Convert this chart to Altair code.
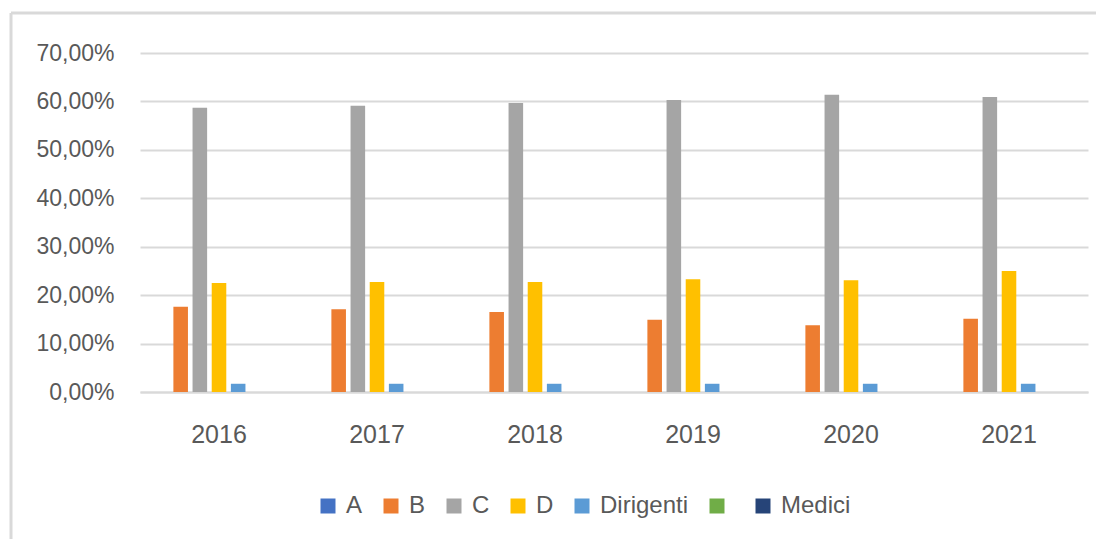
import altair as alt
import pandas as pd

years = ["2016", "2017", "2018", "2019", "2020", "2021"]
series = ["A", "B", "C", "D", "Dirigenti", " ", "Medici"]
colors = ["#4472C4", "#ED7D31", "#A5A5A5", "#FFC000", "#5B9BD5", "#70AD47", "#264478"]

val_A = [0, 0, 0, 0, 0, 0]
val_B = [17.6, 17.1, 16.5, 14.9, 13.8, 15.1]
val_C = [58.7, 59.1, 59.7, 60.3, 61.4, 60.9]
val_D = [22.5, 22.7, 22.7, 23.3, 23.1, 25.0]
val_Dir = [1.7, 1.7, 1.7, 1.7, 1.7, 1.7]
val_G = [0, 0, 0, 0, 0, 0]
val_Med = [0, 0, 0, 0, 0, 0]

y_ticks = [0, 0.1, 0.2, 0.3, 0.4, 0.5, 0.6, 0.7]

all_vals = [val_A, val_B, val_C, val_D, val_Dir, val_G, val_Med]
rows = []
for s, vals in zip(series, all_vals):
    for yr, v in zip(years, vals):
        rows.append({"year": yr, "series": s, "value": v / 100})
df = pd.DataFrame(rows)

FONT = "Liberation Sans"
TXT = "#595959"
GRID = "#D9D9D9"

bars = alt.Chart(df).mark_bar().encode(
    x=alt.X("year:N", sort=years,
            scale=alt.Scale(paddingInner=0.18, paddingOuter=0.09),
            axis=alt.Axis(title=None, labelAngle=0, ticks=False, domain=True,
                          domainColor=GRID, domainWidth=2,
                          labelFont=FONT, labelFontSize=25, labelColor=TXT,
                          labelPadding=30, grid=False)),
    xOffset=alt.XOffset("series:N", sort=series,
                        scale=alt.Scale(paddingInner=0.24)),
    y=alt.Y("value:Q",
            scale=alt.Scale(domain=[0, 0.7], nice=False),
            axis=alt.Axis(title=None, values=y_ticks, ticks=False, domain=False,
                          gridColor=GRID, gridWidth=2,
                          labelExpr="replace(format(datum.value, '.2%'), '.', ',')",
                          labelFont=FONT, labelFontSize=23, labelColor=TXT,
                          labelPadding=26)),
    color=alt.Color("series:N", sort=series,
                    scale=alt.Scale(domain=series, range=colors),
                    legend=alt.Legend(title=None, orient="none", direction="horizontal",
                                      columns=7, legendX=176, legendY=441,
                                      symbolType="square", symbolSize=225,
                                      symbolStrokeWidth=0,
                                      labelFont=FONT, labelFontSize=24, labelColor=TXT,
                                      labelOffset=6, columnPadding=16)),
)

border_top = alt.Chart(pd.DataFrame({"k": [0]})).mark_rule(color=GRID, strokeWidth=3).encode(
    x=alt.value(-129), x2=alt.value(968), y=alt.value(-40))
border_left = alt.Chart(pd.DataFrame({"k": [0]})).mark_rule(color=GRID, strokeWidth=3).encode(
    x=alt.value(-129), y=alt.value(-40), y2=alt.value(520))

chart = alt.layer(border_top, border_left, bars).properties(
    width=948, height=339,
    autosize=alt.AutoSizeParams(type="none"),
    padding={"left": 132, "top": 45, "right": 8, "bottom": 147},
).configure(background="white").configure_view(stroke=None)

chart.save("out.html", embed_options={"renderer": "svg", "actions": False})
